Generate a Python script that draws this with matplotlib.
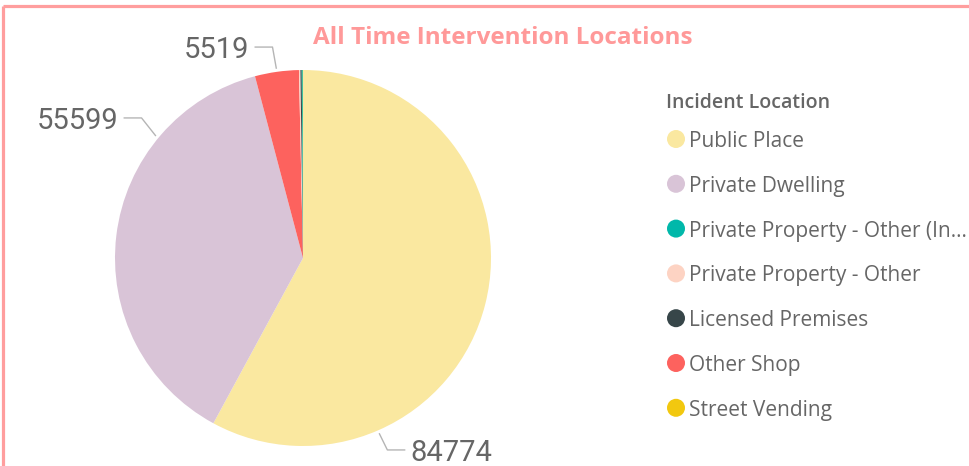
import numpy as np
import matplotlib
matplotlib.use('Agg')
from matplotlib import pyplot as plt
from matplotlib.patches import Circle

# slices, in the order they are drawn (clockwise from 12 o'clock)
locations = ['Public Place', 'Private Dwelling', 'Other Shop',
             'Private Property - Other', 'Licensed Premises',
             'Private Property - Other (In...', 'Street Vending']
counts = [84774, 55599, 5519, 180, 160, 140, 20]
colours = ['#FAE8A0', '#D9C4D7', '#FD625E', '#FDD3C3', '#374649', '#01B8AA', '#F2C80F']

# legend order as shown in the report
legend_order = ['Public Place', 'Private Dwelling', 'Private Property - Other (In...',
                'Private Property - Other', 'Licensed Premises', 'Other Shop',
                'Street Vending']

# which slices get a data label, and where the leader line starts (deg clockwise from top)
labelled = ['Public Place', 'Private Dwelling', 'Other Shop']
label_angle = [156.5, 309.7, None]   # None -> middle of slice
label_elbow = [(0.042, -1.021), (-0.074, 0.745), (-0.02, 1.122)]

W, H = 969, 466
fig = plt.figure(figsize=(W / 100, H / 100), dpi=100)

# overlay in pixel coords for frame, title, legend
ov = fig.add_axes([0, 0, 1, 1])
ov.set_xlim(0, W)
ov.set_ylim(H, 0)
ov.axis('off')

pink = '#FF9E9E'
ov.plot([3, W], [6, 6], color=pink, lw=2.3, solid_capstyle='butt')
ov.plot([3, 3], [6, H], color=pink, lw=2.3, solid_capstyle='butt')

ov.text(503, 35, 'All Time Intervention Locations', color='#FF9999',
        fontsize=17.5, fontweight='bold', family='Open Sans',
        ha='center', va='center_baseline')

# pie
cx, cy, r = 303, 258, 188
ax = fig.add_axes([(cx - r) / W, (H - cy - r) / H, 2 * r / W, 2 * r / H])
ax.pie(counts, colors=colours, startangle=90, counterclock=False, radius=1,
       wedgeprops=dict(linewidth=0))
ax.set_xlim(-1, 1)
ax.set_ylim(-1, 1)
ax.set_aspect('equal')
ax.axis('off')

total = float(sum(counts))
cum = np.cumsum([0] + counts)
for name, ang, (edx, ey) in zip(labelled, label_angle, label_elbow):
    i = locations.index(name)
    if ang is None:
        ang = (cum[i] + counts[i] / 2) / total * 360
    t = np.deg2rad(ang)
    sx, sy = 1.02 * np.sin(t), 1.02 * np.cos(t)
    side = 1 if sx > 0 else -1
    ex = sx + edx
    endx = ex + side * 0.092
    ax.plot([sx, ex, endx], [sy, ey, ey], color='#B5B5B5', lw=1, clip_on=False)
    ax.text(endx + side * 0.032, ey, str(counts[i]), color='#666666',
            fontsize=21, family='Roboto', ha='left' if side > 0 else 'right',
            va='center_baseline', clip_on=False)

# legend
ov.text(666, 101, 'Incident Location', color='#666666', fontsize=14,
        fontweight='semibold', family='Open Sans', ha='left', va='center_baseline')
for k, name in enumerate(legend_order):
    y = 139 + k * 44.8
    ov.add_patch(Circle((676, y), 9, color=colours[locations.index(name)], lw=0))
    ov.text(689, y, name, color='#666666', fontsize=15, family='Open Sans',
            ha='left', va='center_baseline')

fig.savefig('out.png', dpi=100)
